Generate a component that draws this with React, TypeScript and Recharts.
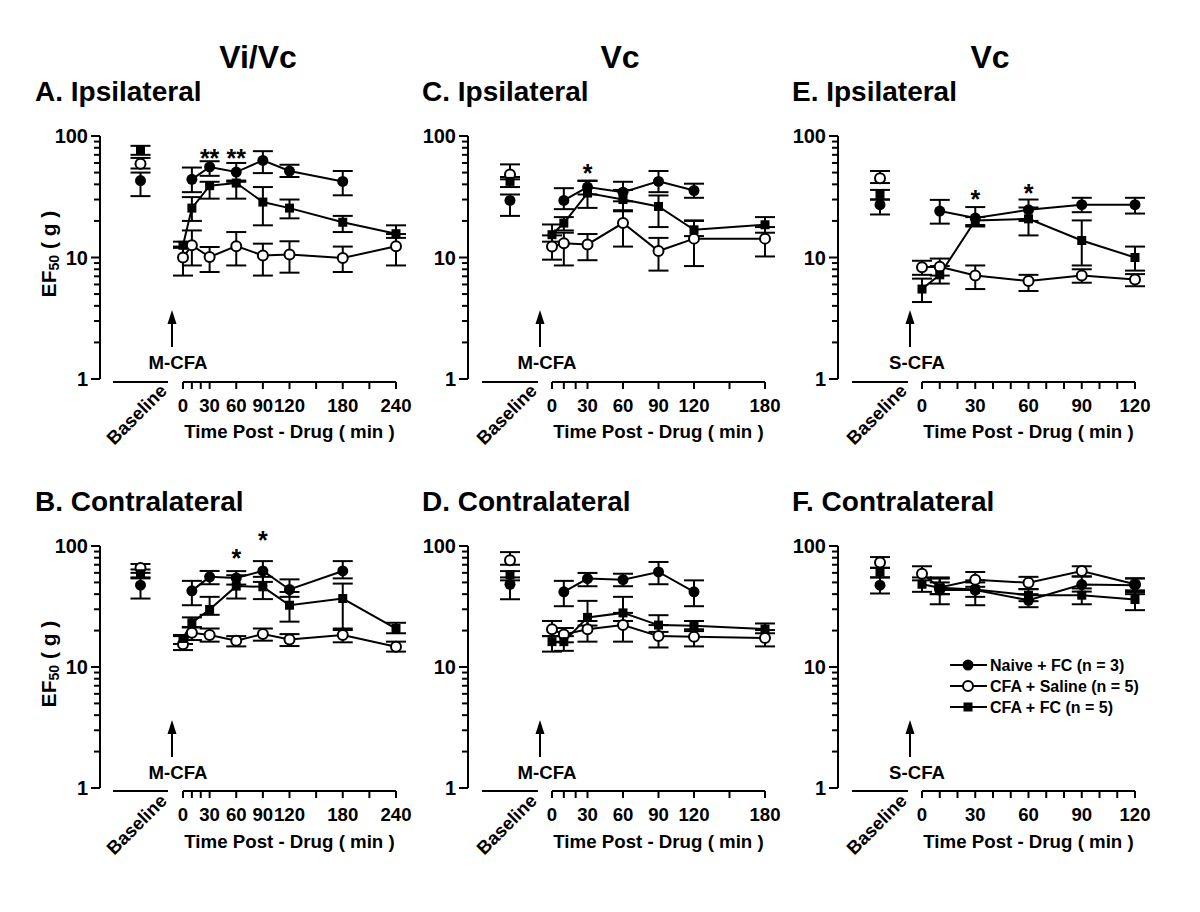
import React from 'react';
import { LineChart, Line, XAxis, YAxis, ErrorBar } from 'recharts';

// [time (min), mean, lower, upper]
type Pt = [number, number, number, number];
// [mean, lower, upper] for the baseline column
type Base = [number, number, number];
type Star = [number, number, string];

// A. Vi/Vc ipsilateral
const naiveA: Pt[] = [[10, 44, 34.5, 55], [30, 55.6, 47, 62], [60, 50.5, 42, 60], [90, 63, 49.5, 75], [120, 51.5, 46, 58], [180, 42.3, 32.5, 51.5]];
const salineA: Pt[] = [[0, 10, 7.1, 12.3], [10, 12.6, 8.6, 16.7], [30, 10.1, 7.6, 12.2], [60, 12.4, 8.6, 16.2], [90, 10.4, 7.1, 13], [120, 10.6, 7.5, 13.6], [180, 9.9, 7.6, 12.3], [240, 12.4, 8.6, 15.6]];
const fcA: Pt[] = [[0, 12.6, 12, 13.5], [10, 25.5, 20, 31.4], [30, 39, 30.5, 42], [60, 41, 30.5, 43], [90, 28.6, 18.4, 38], [120, 25.5, 21, 30], [180, 19.5, 16.2, 22], [240, 15.7, 14.5, 18.4]];
const baseA: Base[] = [[43, 32, 50], [59, 54, 66], [77, 70, 83]];
const starsA: Star[] = [[30, 72, '**'], [60, 72, '**']];

// B. Vi/Vc contralateral
const naiveB: Pt[] = [[10, 42.6, 32.4, 51.5], [30, 55.6, 48.3, 62.2], [60, 54.5, 48, 62], [90, 62.2, 50.5, 75], [120, 43.7, 38, 53], [180, 62.2, 54, 75]];
const salineB: Pt[] = [[0, 15.4, 13.8, 18], [10, 19.2, 16.7, 21.2], [30, 18.4, 16.2, 20.8], [60, 16.5, 14.8, 18], [90, 18.7, 16.5, 20.8], [120, 16.9, 14.9, 18.7], [180, 18.4, 16, 20.8], [240, 14.7, 13.4, 16.2]];
const fcB: Pt[] = [[0, 17.2, 15.5, 18.4], [10, 23.2, 21.4, 25.7], [30, 29.9, 27, 38], [60, 46.6, 36.8, 57.3], [90, 46, 36.4, 55.6], [120, 32.4, 23.7, 41.7], [180, 36.8, 20.2, 48.9], [240, 20.8, 19, 23.2]];
const baseB: Base[] = [[47.4, 36.8, 55], [65.9, 60, 71], [59, 54, 64]];
const starsB: Star[] = [[60, 87, '*'], [90, 123, '*']];

// C. Vc ipsilateral
const naiveC: Pt[] = [[10, 29.5, 25, 37.2], [30, 38, 33, 43], [60, 34.5, 29, 42], [90, 42.3, 34.5, 51.5], [120, 35.6, 31, 40.5]];
const salineC: Pt[] = [[0, 12.3, 9.6, 15.2], [10, 13.1, 8.6, 16], [30, 12.8, 9.5, 15.6], [60, 19.2, 12.3, 24.5], [90, 11.3, 7.8, 14.5], [120, 14.3, 8.5, 20], [180, 14.3, 10.2, 17.8]];
const fcC: Pt[] = [[0, 15.4, 13.5, 18.7], [10, 19.2, 16.7, 21.5], [30, 33.9, 25.6, 42.6], [60, 30, 24, 36], [90, 26.3, 17.8, 32.4], [120, 16.9, 15, 20.2], [180, 18.6, 16, 21.5]];
const baseC: Base[] = [[29.5, 22, 33], [48.3, 44, 58.4], [42.3, 38, 46]];
const starsC: Star[] = [[30, 54.6, '*']];

// D. Vc contralateral
const naiveD: Pt[] = [[10, 41.8, 31.8, 51.5], [30, 53.8, 46.5, 59.9], [60, 52.7, 46.5, 59], [90, 61, 48.3, 73.8], [120, 41.8, 31.8, 52]];
const salineD: Pt[] = [[0, 20.5, 18, 24], [10, 18.6, 16, 21], [30, 20.5, 16.2, 24], [60, 22.2, 16.2, 28], [90, 18, 14.5, 22.2], [120, 17.8, 14.8, 20.5], [180, 17.4, 14.8, 20.2]];
const fcD: Pt[] = [[0, 16.2, 13.4, 18], [10, 16.2, 13.6, 18], [30, 25.7, 22, 35.2], [60, 28, 24, 38], [90, 22.2, 19.5, 26.8], [120, 21.9, 19.8, 24], [180, 20.6, 19, 22.9]];
const baseD: Base[] = [[48.3, 36.3, 55], [76.2, 70, 89], [58, 52, 62]];
const starsD: Star[] = [];

// E. Vc ipsilateral (S-CFA)
const naiveE: Pt[] = [[10, 24.1, 19, 29.8], [30, 21.1, 18, 26], [60, 24.7, 20, 30], [90, 27.2, 23.6, 31], [120, 27.2, 23, 31]];
const salineE: Pt[] = [[0, 8.3, 7.2, 9.4], [10, 8.4, 7.1, 9.8], [30, 7.1, 5.5, 8.6], [60, 6.4, 5.3, 7.2], [90, 7.1, 6.2, 8], [120, 6.6, 5.8, 7.3]];
const fcE: Pt[] = [[0, 5.5, 4.3, 6.7], [10, 7.2, 6.1, 8.5], [30, 20.2, 18.5, 21.5], [60, 20.8, 15.2, 25.8], [90, 13.8, 8.6, 20.2], [120, 10, 7.8, 12.3]];
const baseE: Base[] = [[27.2, 22.6, 30], [45, 41, 51.5], [33, 30, 36]];
const starsE: Star[] = [[30, 33.3, '*'], [60, 37.3, '*']];

// F. Vc contralateral (S-CFA)
const naiveF: Pt[] = [[10, 43.2, 33, 53.8], [30, 43.2, 32.4, 52], [60, 35.6, 31.2, 40], [90, 48, 42, 56], [120, 47.4, 40, 54]];
const salineF: Pt[] = [[0, 59, 52, 68], [10, 45.4, 40, 50], [30, 52.7, 46, 61], [60, 49.6, 44, 55.6], [90, 62.2, 56, 68], [120, 48.3, 43, 54]];
const fcF: Pt[] = [[0, 48.3, 41.8, 55], [10, 45.1, 40, 55], [30, 43.7, 38, 50], [60, 39.2, 35, 44], [90, 39.2, 33, 44.6], [120, 36.1, 29.5, 41.7]];
const baseF: Base[] = [[47.4, 40.5, 55], [72.9, 66, 81], [61, 55, 66]];
const starsF: Star[] = [];

const ticks240 = [0, 10, 20, 30, 60, 90, 120, 150, 180, 210, 240];
const labels240 = [0, 30, 60, 90, 120, 180, 240];
const ticks180 = [0, 10, 20, 30, 60, 90, 120, 150, 180];
const labels180 = [0, 30, 60, 90, 120, 180];
const ticks120 = [0, 10, 20, 30, 40, 50, 60, 70, 80, 90, 100, 110, 120];
const labels120 = [0, 30, 60, 90, 120];
const yTicks = [1, 2, 3, 4, 5, 6, 7, 8, 9, 10, 20, 30, 40, 50, 60, 70, 80, 90, 100];
const yLabels = [1, 10, 100];

const seriesNames = ['Naive + FC  (n = 3)', 'CFA + Saline (n = 5)', 'CFA + FC (n = 5)'];

const FONT = '"Liberation Sans", Arial, Helvetica, sans-serif';

const COLS = [
  { axisX: 100, base: [113, 168], time: [183, 396], tmax: 240, ticks: ticks240, labels: labels240, arrowX: 172, cfaX: 178, titleX: 35, headX: 258, head: 'Vi/Vc' },
  { axisX: 468, base: [482, 538], time: [552, 765], tmax: 180, ticks: ticks180, labels: labels180, arrowX: 540, cfaX: 547, titleX: 422, headX: 620, head: 'Vc' },
  { axisX: 838, base: [852, 908], time: [922, 1135], tmax: 120, ticks: ticks120, labels: labels120, arrowX: 910, cfaX: 917, titleX: 792, headX: 990, head: 'Vc' },
];
const ROWS = [
  { y100: 136, y1: 379 },
  { y100: 546, y1: 788 },
];

const panels = [
  { col: 0, row: 0, title: 'A. Ipsilateral', cfa: 'M-CFA', series: [naiveA, salineA, fcA], base: baseA, stars: starsA },
  { col: 0, row: 1, title: 'B. Contralateral', cfa: 'M-CFA', series: [naiveB, salineB, fcB], base: baseB, stars: starsB },
  { col: 1, row: 0, title: 'C. Ipsilateral', cfa: 'M-CFA', series: [naiveC, salineC, fcC], base: baseC, stars: starsC },
  { col: 1, row: 1, title: 'D. Contralateral', cfa: 'M-CFA', series: [naiveD, salineD, fcD], base: baseD, stars: starsD },
  { col: 2, row: 0, title: 'E. Ipsilateral', cfa: 'S-CFA', series: [naiveE, salineE, fcE], base: baseE, stars: starsE },
  { col: 2, row: 1, title: 'F. Contralateral', cfa: 'S-CFA', series: [naiveF, salineF, fcF], base: baseF, stars: starsF },
];

const TOP_EXTRA = 25; // room above 100 for the asterisks
const GAP = 3; // x axis sits a little below y = 1
const M_TOP = 5;
const M_SIDE = 26;
const X_H = 40;

const FilledDot = (p: any) => <circle cx={p.cx} cy={p.cy} r={5.5} fill="#000" />;
const OpenDot = (p: any) => <circle cx={p.cx} cy={p.cy} r={5} fill="#fff" stroke="#000" strokeWidth={2} />;
const SquareDot = (p: any) => <rect x={p.cx - 4.5} y={p.cy - 4.5} width={9} height={9} fill="#000" />;
const DOTS = [FilledDot, OpenDot, SquareDot];
const DRAW_ORDER = [1, 2, 0];

const toRows = (pts: Pt[]) => pts.map(([t, v, lo, hi]) => ({ t, v, err: [v - lo, hi - v] }));

function yDomain(row: number): [number, number] {
  const r = ROWS[row];
  const dec = (r.y1 - r.y100) / 2;
  return [Math.pow(10, -GAP / dec), Math.pow(10, 2 + TOP_EXTRA / dec)];
}

function YChart({ col, row }: { col: number; row: number }) {
  const c = COLS[col];
  const r = ROWS[row];
  const W = 60;
  const tick = (p: any) => {
    const v = p.payload.value;
    const major = yLabels.includes(v);
    return (
      <g>
        <line x1={W} x2={W - (major ? 9 : 6)} y1={p.y} y2={p.y} stroke="#000" strokeWidth={2} />
        {major && (
          <text x={W - 12} y={p.y} dy="0.36em" textAnchor="end" fontFamily={FONT} fontWeight="bold" fontSize={20} fill="#000">
            {v}
          </text>
        )}
      </g>
    );
  };
  return (
    <div style={{ position: 'absolute', left: c.axisX - W, top: r.y100 - 10 }}>
      <LineChart width={W + 10} height={r.y1 - r.y100 + 20} margin={{ top: 10, bottom: 10, left: 0, right: 6 }}>
        <XAxis hide type="number" dataKey="t" domain={[0, 1]} />
        <YAxis
          width={W}
          type="number"
          scale="log"
          domain={[1, 100]}
          ticks={yTicks}
          interval={0}
          axisLine={{ stroke: '#000', strokeWidth: 2 }}
          tickLine={false}
          tick={tick}
        />
        {/* invisible series so the axis has something to scale */}
        <Line
          data={[{ t: 0, v: 1 }, { t: 1, v: 100 }]}
          dataKey="v"
          stroke="none"
          dot={false}
          activeDot={false}
          isAnimationActive={false}
        />
      </LineChart>
    </div>
  );
}

function BaseChart({ col, row, base }: { col: number; row: number; base: Base[] }) {
  const c = COLS[col];
  const r = ROWS[row];
  const w = c.base[1] - c.base[0];
  const plotH = r.y1 - r.y100 + TOP_EXTRA + GAP;
  return (
    <div style={{ position: 'absolute', left: c.base[0] - M_SIDE, top: r.y100 - TOP_EXTRA - M_TOP }}>
      <LineChart width={w + 2 * M_SIDE} height={M_TOP + plotH + X_H} margin={{ top: M_TOP, right: M_SIDE, left: M_SIDE, bottom: 0 }}>
        <XAxis
          type="number"
          dataKey="t"
          domain={[0, 1]}
          ticks={[0, 1]}
          interval={0}
          height={X_H}
          tick={false}
          tickSize={7}
          stroke="#000"
          axisLine={{ stroke: '#000', strokeWidth: 2 }}
          tickLine={{ stroke: '#000', strokeWidth: 2 }}
        />
        <YAxis hide type="number" scale="log" domain={yDomain(row)} />
        {DRAW_ORDER.map((i) => {
          const [v, lo, hi] = base[i];
          return (
            <Line
              key={i}
              data={[{ t: 0.5, v, err: [v - lo, hi - v] }]}
              dataKey="v"
              stroke="#000"
              dot={DOTS[i]}
              activeDot={false}
              isAnimationActive={false}
            >
              <ErrorBar dataKey="err" direction="y" width={10} strokeWidth={2} stroke="#000" />
            </Line>
          );
        })}
      </LineChart>
    </div>
  );
}

function TimeChart({ col, row, series, stars }: { col: number; row: number; series: Pt[][]; stars: Star[] }) {
  const c = COLS[col];
  const r = ROWS[row];
  const w = c.time[1] - c.time[0];
  const plotH = r.y1 - r.y100 + TOP_EXTRA + GAP;
  const axisY = M_TOP + plotH;
  const xTick = (p: any) =>
    c.labels.includes(p.payload.value) ? (
      <text x={p.x} y={axisY + 30} textAnchor="middle" fontFamily={FONT} fontWeight="bold" fontSize={18.6} fill="#000">
        {p.payload.value}
      </text>
    ) : (
      <g />
    );
  const starDot = (p: any) => (
    <text x={p.cx} y={p.cy + 14} textAnchor="middle" fontFamily={FONT} fontWeight="bold" fontSize={25} fill="#000">
      {p.payload.s}
    </text>
  );
  return (
    <div style={{ position: 'absolute', left: c.time[0] - M_SIDE, top: r.y100 - TOP_EXTRA - M_TOP }}>
      <LineChart width={w + 2 * M_SIDE} height={M_TOP + plotH + X_H} margin={{ top: M_TOP, right: M_SIDE, left: M_SIDE, bottom: 0 }}>
        <XAxis
          type="number"
          dataKey="t"
          domain={[0, c.tmax]}
          ticks={c.ticks}
          interval={0}
          height={X_H}
          tickSize={7}
          stroke="#000"
          axisLine={{ stroke: '#000', strokeWidth: 2 }}
          tickLine={{ stroke: '#000', strokeWidth: 2 }}
          tick={xTick}
        />
        <YAxis hide type="number" scale="log" domain={yDomain(row)} />
        {DRAW_ORDER.map((i) => (
          <Line
            key={i}
            data={toRows(series[i])}
            dataKey="v"
            stroke="#000"
            strokeWidth={2}
            dot={DOTS[i]}
            activeDot={false}
            isAnimationActive={false}
          >
            <ErrorBar dataKey="err" direction="y" width={10} strokeWidth={2} stroke="#000" />
          </Line>
        ))}
        {stars.length > 0 && (
          <Line
            data={stars.map(([t, v, s]) => ({ t, v, s }))}
            dataKey="v"
            stroke="none"
            dot={starDot}
            activeDot={false}
            isAnimationActive={false}
          />
        )}
      </LineChart>
    </div>
  );
}

function Overlay() {
  return (
    <svg width={1200} height={912} style={{ position: 'absolute', left: 0, top: 0, pointerEvents: 'none' }} fontFamily={FONT} fontWeight="bold" fill="#000">
      {COLS.map((c, i) => (
        <text key={'h' + i} x={c.headX} y={68} fontSize={32} textAnchor="middle">
          {c.head}
        </text>
      ))}
      {panels.map((p, i) => {
        const c = COLS[p.col];
        const r = ROWS[p.row];
        const dy = r.y100 - ROWS[0].y100;
        return (
          <g key={'p' + i}>
            <text x={c.titleX} y={101 + dy} fontSize={28}>
              {p.title}
            </text>
            <text x={(c.time[0] + c.time[1]) / 2} y={438 + dy} fontSize={18.7} textAnchor="middle">
              Time Post - Drug ( min )
            </text>
            <text x={c.base[1]} y={392 + dy} fontSize={18.5} textAnchor="end" transform={`rotate(-45 ${c.base[1]} ${392 + dy})`}>
              Baseline
            </text>
            <line x1={c.arrowX} x2={c.arrowX} y1={347 + dy} y2={320 + dy} stroke="#000" strokeWidth={2} />
            <polygon points={`${c.arrowX},${310 + dy} ${c.arrowX - 4.5},${324 + dy} ${c.arrowX + 4.5},${324 + dy}`} fill="#000" />
            <text x={c.cfaX} y={369 + dy} fontSize={18.6} textAnchor="middle">
              {p.cfa}
            </text>
            {p.col === 0 && (
              <text x={48} y={254 + dy} fontSize={21} textAnchor="middle" dominantBaseline="central" transform={`rotate(-90 48 ${254 + dy})`}>
                EF
                <tspan fontSize={14} dy={6}>
                  50
                </tspan>
                <tspan dy={-6}> ( g )</tspan>
              </text>
            )}
          </g>
        );
      })}
      <g>
        {seriesNames.map((name, i) => {
          const y = 665 + i * 21;
          return (
            <g key={'l' + i}>
              <line x1={950} x2={987} y1={y} y2={y} stroke="#000" strokeWidth={2} />
              {i === 0 && <circle cx={968} cy={y} r={5.5} fill="#000" />}
              {i === 1 && <circle cx={968} cy={y} r={5} fill="#fff" stroke="#000" strokeWidth={2} />}
              {i === 2 && <rect x={963.5} y={y - 4.5} width={9} height={9} fill="#000" />}
              <text x={990} y={y} dy="0.36em" fontSize={16}>
                {name}
              </text>
            </g>
          );
        })}
      </g>
    </svg>
  );
}

export default function App() {
  return (
    <div style={{ position: 'absolute', left: 0, top: 0, width: 1200, height: 912, background: '#fff', overflow: 'hidden' }}>
      {panels.map((p, i) => (
        <React.Fragment key={i}>
          <YChart col={p.col} row={p.row} />
          <BaseChart col={p.col} row={p.row} base={p.base} />
          <TimeChart col={p.col} row={p.row} series={p.series} stars={p.stars} />
        </React.Fragment>
      ))}
      <Overlay />
    </div>
  );
}
